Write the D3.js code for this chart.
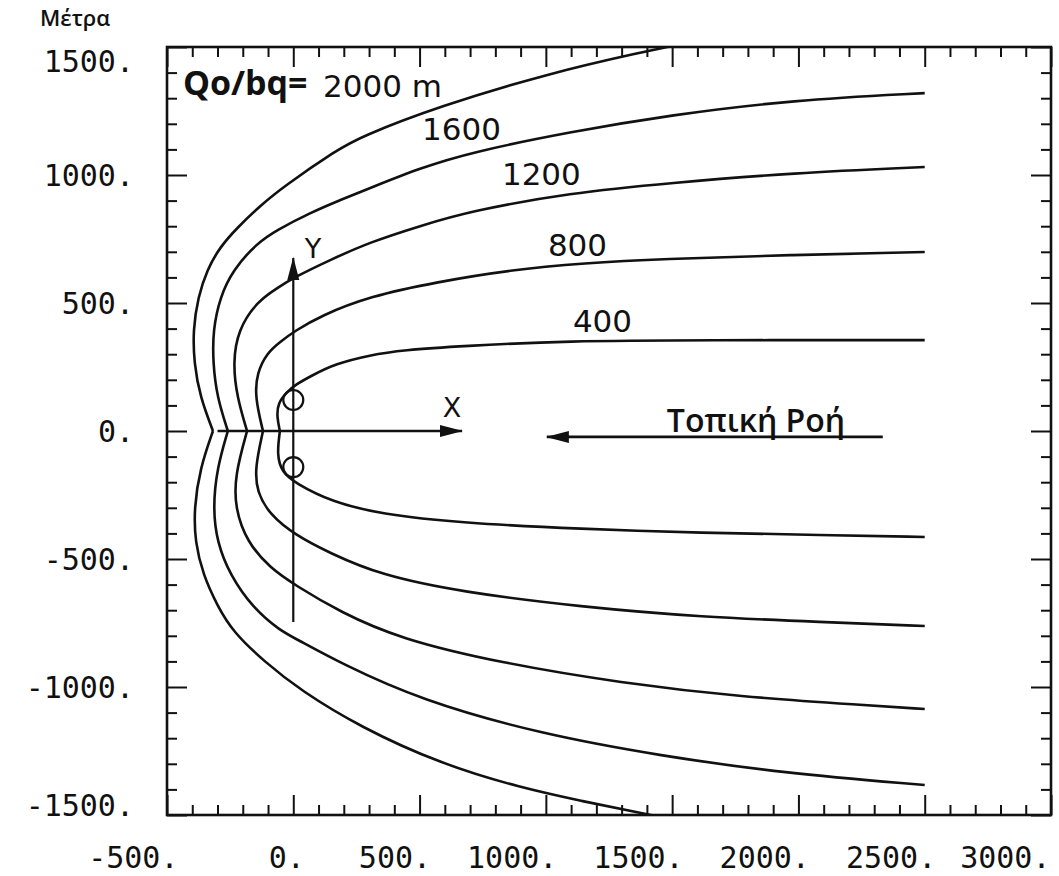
<!DOCTYPE html>
<html lang="el">
<head>
<meta charset="UTF-8">
<script src="https://d3js.org/d3.v7.min.js"></script>
<title>Capture zones</title>
<style>
    body { margin: 0; background: #fff; }
    .axis text { font-family: 'DejaVu Sans Mono', monospace; font-size: 30px; fill: #111; }
    .axis line { stroke: #111; stroke-width: 2; }
    .axis path { display: none; }
    .curve { fill: none; stroke: #111; stroke-width: 2.6; }
    text.lab { font-family: 'DejaVu Sans', sans-serif; font-size: 31px; fill: #111; }
    text.gr { font-family: 'Open Sans', sans-serif; font-weight: 600; fill: #111; }
</style>
</head>
<body>
<svg width="1059" height="876"></svg>
<script>
    // tick values
    const xMajor = [-500, 0, 500, 1000, 1500, 2000, 2500, 3000];
    const yMajor = [-1500, -1000, -500, 0, 500, 1000, 1500];

    // capture zone envelopes (x, y in metres)
    const up2000 = [[-318,0],[-369,133],[-393,266],[-397,395],[-377,523],[-342,629],[-290,719],[-223,793],
        [-132,879],[-41,953],[173,1098],[264,1148],[569,1266],[1016,1398],[1361,1476],[1610,1527]];
    const lo2000 = [[-318,0],[-369,-145],[-393,-301],[-389,-434],[-357,-562],[-302,-680],[-239,-785],[-113,-902],
        [27,-1012],[264,-1156],[585,-1301],[902,-1394],[1139,-1445],[1377,-1492],[1610,-1539]];
    const up1600 = [[-259,0],[-302,133],[-318,266],[-318,395],[-290,523],[-239,629],[-144,734],[-65,785],
        [66,852],[185,902],[304,949],[502,1027],[700,1088],[1095,1168],[1491,1234],[1978,1293],[2500,1320]];
    const lo1600 = [[-259,0],[-302,-145],[-318,-301],[-302,-434],[-251,-562],[-160,-691],[-53,-780],[27,-820],
        [185,-906],[502,-1051],[981,-1184],[1456,-1269],[1935,-1336],[2500,-1383]];
    const up1200 = [[-183,0],[-223,133],[-239,266],[-219,395],[-144,505],[-65,558],[7,602],[145,668],
        [304,738],[502,801],[700,859],[1095,930],[1491,969],[1978,1008],[2500,1031]];
    const lo1200 = [[-183,0],[-231,-172],[-231,-301],[-183,-434],[-92,-535],[7,-602],[185,-707],[422,-812],
        [822,-906],[1297,-984],[1776,-1039],[2251,-1070],[2500,-1086]];
    const up800 = [[-120,0],[-152,133],[-144,227],[-104,305],[-53,348],[7,391],[106,449],[304,527],
        [569,582],[858,629],[1155,656],[1452,672],[1978,688],[2500,699]];
    const lo800 = [[-120,0],[-152,-145],[-144,-238],[-92,-328],[7,-406],[145,-477],[343,-562],[664,-629],
        [1139,-687],[1618,-727],[2093,-746],[2500,-762]];
    const up400 = [[-53,0],[-65,55],[-61,109],[-25,152],[7,180],[78,219],[165,262],[304,297],
        [434,316],[664,332],[1083,352],[1610,355],[2500,355]];
    const lo400 = [[-53,0],[-65,-94],[-45,-160],[7,-203],[153,-277],[343,-324],[664,-359],[1139,-383],
        [1618,-398],[2093,-406],[2500,-414]];

    const curves = [up2000, lo2000, up1600, lo1600, up1200, lo1200, up800, lo800, up400, lo400];

    // curve labels and where they sit (metres)
    const labelText = ["2000 m", "1600", "1200", "800", "400"];
    const labelX = [118, 510, 826, 1008, 1107];
    const labelY = [1305, 1137, 961, 684, 387];

    const wellY = [121, -141];

    const svg = d3.select("svg");
    const x = d3.scaleLinear().domain([-500, 3000]).range([167, 1051]);
    const y = d3.scaleLinear().domain([-1500, 1500]).range([815, 47]);
    const xMinor = d3.range(-500, 3001, 100).filter(d => d % 500 !== 0);
    const yMinor = d3.range(-1500, 1501, 100).filter(d => d % 500 !== 0);

    // ticks on all four sides, pointing inward
    function side(axis, pos, major, minor, labels) {
        const g = svg.append("g").attr("class", "axis").attr("transform", pos);
        g.append("g").call(axis.tickValues(minor).tickSize(-10).tickFormat(""));
        const m = g.append("g").call(axis.tickValues(major).tickSize(-20)
            .tickFormat(labels ? d => d + "." : ""));
        return m;
    }
    side(d3.axisBottom(x).tickPadding(32), `translate(0,${y(-1500)})`, xMajor, xMinor, true)
        .selectAll("text").attr("text-anchor", "end").attr("dx", d => d === 3000 ? -1 : 11);
    side(d3.axisTop(x), `translate(0,${y(1500)})`, xMajor, xMinor, false);
    side(d3.axisLeft(y).tickPadding(33), `translate(${x(-500)},0)`, yMajor, yMinor, true)
        .selectAll("text").attr("dy", d => d === 1500 ? "0.8em" : d === -1500 ? "0" : "0.36em");
    side(d3.axisRight(y), `translate(${x(3000)},0)`, yMajor, yMinor, false);

    svg.append("rect")
        .attr("x", x(-500)).attr("y", y(1500))
        .attr("width", x(3000) - x(-500)).attr("height", y(-1500) - y(1500))
        .attr("fill", "none").attr("stroke", "#111").attr("stroke-width", 2.6);

    svg.append("clipPath").attr("id", "frame").append("rect")
        .attr("x", x(-500)).attr("y", y(1500))
        .attr("width", x(3000) - x(-500)).attr("height", y(-1500) - y(1500));

    const defs = svg.append("defs");
    defs.append("marker").attr("id", "head")
        .attr("viewBox", "0 -7 24 14").attr("refX", 22).attr("refY", 0)
        .attr("markerUnits", "userSpaceOnUse").attr("markerWidth", 24).attr("markerHeight", 14)
        .attr("orient", "auto")
        .append("path").attr("d", "M0,-6L23,0L0,6Z").attr("fill", "#111");

    const line = d3.line().x(d => x(d[0])).y(d => y(d[1])).curve(d3.curveBasis);
    const plot = svg.append("g").attr("clip-path", "url(#frame)");
    plot.selectAll("path.curve").data(curves).enter().append("path")
        .attr("class", "curve").attr("d", line);

    // local coordinate axes through the wells
    const straight = d3.line().x(d => x(d[0])).y(d => y(d[1]));
    plot.append("path").attr("d", straight([[-300, 0], [668, 0]]))
        .attr("stroke", "#111").attr("stroke-width", 2.4).attr("marker-end", "url(#head)");
    plot.append("path").attr("d", straight([[0, -746], [0, 676]]))
        .attr("stroke", "#111").attr("stroke-width", 2.2).attr("marker-end", "url(#head)");
    plot.append("path").attr("d", straight([[2334, -23], [1004, -23]]))
        .attr("stroke", "#111").attr("stroke-width", 2.6).attr("marker-end", "url(#head)");

    plot.selectAll("circle.well").data(wellY).enter().append("circle")
        .attr("class", "well").attr("cx", x(0)).attr("cy", d => y(d)).attr("r", 10)
        .attr("fill", "none").attr("stroke", "#111").attr("stroke-width", 2.2);

    svg.selectAll("text.lab").data(labelText).enter().append("text")
        .attr("class", "lab")
        .attr("x", (d, i) => x(labelX[i])).attr("y", (d, i) => y(labelY[i]))
        .text(d => d);

    svg.append("text").attr("class", "lab").attr("text-anchor", "middle")
        .attr("x", x(628)).attr("y", y(55)).style("font-size", "27px").text("X");
    svg.append("text").attr("class", "lab").attr("text-anchor", "middle")
        .attr("x", x(78)).attr("y", y(676)).style("font-size", "27px").text("Y");

    svg.append("text").attr("class", "gr").style("font-weight", 700).style("font-size", "34px")
        .attr("x", x(-437)).attr("y", y(1312)).text("Qo/bq=");
    svg.append("text").attr("class", "gr").style("font-size", "32px")
        .attr("x", x(1479)).attr("y", y(-4)).text("Τοπική Ροή");
    svg.append("text").attr("class", "gr").style("font-size", "22px")
        .attr("x", 40).attr("y", 26).text("Μέτρα");
</script>
</body>
</html>
